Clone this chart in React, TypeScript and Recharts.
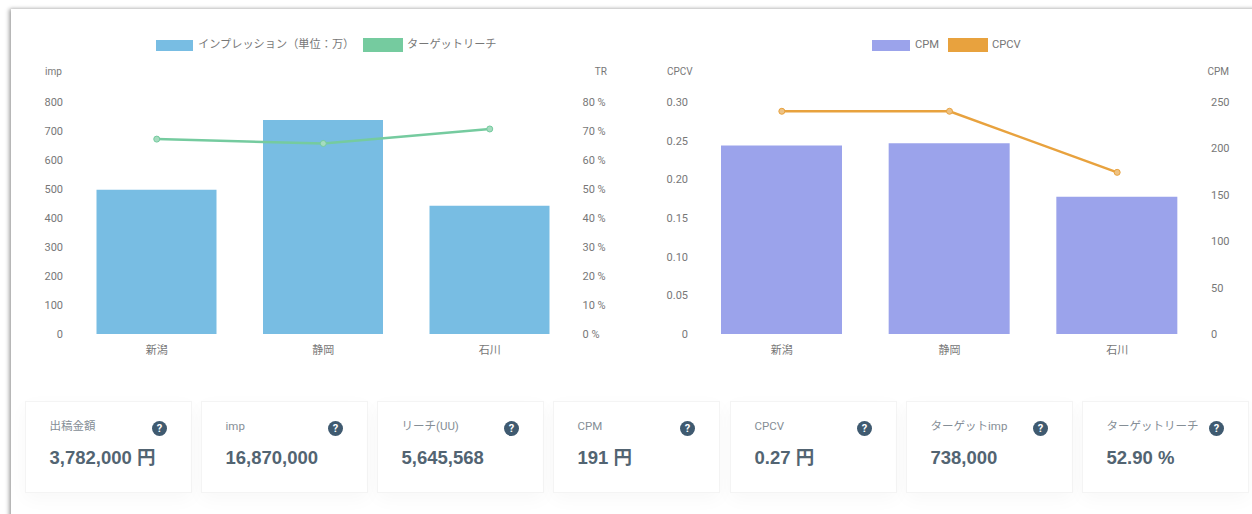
import { Bar, ComposedChart, Legend, Line, XAxis, YAxis } from 'recharts'

const FONT = 'Roboto, "Noto Sans CJK JP", sans-serif'
const TEXT = '#777'

const areas = ['新潟', '静岡', '石川']

const impValues = [497, 738, 442]
const reachValues = [67.2, 65.7, 70.7]
const impTicks = [0, 100, 200, 300, 400, 500, 600, 700, 800]
const reachTicks = [0, 10, 20, 30, 40, 50, 60, 70, 80]

const cpmValues = [203, 205.5, 148]
const cpcvValues = [0.288, 0.288, 0.209]
const cpmTicks = [0, 50, 100, 150, 200, 250]
const cpcvTicks = [0, 0.05, 0.1, 0.15, 0.2, 0.25, 0.3]

const kpiLabels = ['出稿金額', 'imp', 'リーチ(UU)', 'CPM', 'CPCV', 'ターゲットimp', 'ターゲットリーチ']
const kpiValues = ['3,782,000 円', '16,870,000', '5,645,568', '191 円', '0.27 円', '738,000', '52.90 %']

const impData = areas.map((area, i) => ({ area, imp: impValues[i], reach: reachValues[i] }))
const costData = areas.map((area, i) => ({ area, cpm: cpmValues[i], cpcv: cpcvValues[i] }))

type LegendProps = {
  items: { name: string; color: string; left: number; width: number; top: number; height: number; textLeft: number }[]
}

function ChartLegend({ items }: LegendProps) {
  return (
    <div style={{ position: 'absolute', left: 0, top: 0, width: 0, height: 0 }}>
      {items.map((item) => (
        <div key={item.name}>
          <div
            style={{
              position: 'absolute',
              left: item.left,
              top: item.top,
              width: item.width,
              height: item.height,
              background: item.color,
            }}
          />
          <div
            style={{
              position: 'absolute',
              left: item.textLeft,
              top: 37,
              fontSize: 11.2,
              lineHeight: '15px',
              color: TEXT,
              whiteSpace: 'nowrap',
            }}
          >
            {item.name}
          </div>
        </div>
      ))}
    </div>
  )
}

function axisTitle(value: string, x: number, anchor: 'start' | 'end') {
  return ({ viewBox }: any) => (
    <text x={viewBox.x + x} y={75} textAnchor={anchor} fontSize={10} fill={TEXT}>
      {value}
    </text>
  )
}

function KpiCard({ label, value, index }: { label: string; value: string; index: number }) {
  const lefts = [25, 201, 377, 553, 730, 906, 1082]
  return (
    <div
      style={{
        position: 'absolute',
        left: lefts[index],
        top: 401,
        width: 166.5,
        height: 92,
        boxSizing: 'border-box',
        background: '#fff',
        border: '1px solid #f4f4f4',
        boxShadow: '0 6px 18px rgba(0,0,0,0.03)',
      }}
    >
      <div style={{ position: 'absolute', left: 23.5, top: 16, fontSize: 11.5, lineHeight: '16px', color: '#858e96', whiteSpace: 'nowrap' }}>
        {label}
      </div>
      <div
        style={{
          position: 'absolute',
          left: 126,
          top: 19,
          width: 15,
          height: 15,
          borderRadius: '50%',
          background: '#3f5a70',
          color: '#fff',
          fontSize: 11,
          fontWeight: 700,
          lineHeight: '15px',
          textAlign: 'center',
        }}
      >
        ?
      </div>
      <div
        style={{
          position: 'absolute',
          left: 23.5,
          top: 44,
          fontFamily: '"Liberation Sans", "Noto Sans CJK JP", sans-serif',
          fontSize: 18.5,
          fontWeight: 700,
          lineHeight: '24px',
          color: '#526472',
          whiteSpace: 'nowrap',
        }}
      >
        {value}
      </div>
    </div>
  )
}

export default function App() {
  const tick = { fontSize: 11, fill: TEXT }

  return (
    <div style={{ position: 'fixed', left: 0, top: 0, width: 1252, height: 514, background: '#fff', overflow: 'hidden', fontFamily: FONT }}>
      <div
        style={{
          position: 'absolute',
          left: 11,
          top: 9,
          width: 1300,
          height: 600,
          background: '#fff',
          boxShadow: '-2px 0 4px rgba(0,0,0,0.35), 0 -1px 3px rgba(0,0,0,0.06)',
        }}
      />

      <div style={{ position: 'absolute', left: 0, top: 0 }}>
        <ComposedChart
          width={626}
          height={380}
          data={impData}
          margin={{ top: 102, right: 0, bottom: 0, left: 0 }}
        >
          <Legend
            verticalAlign="top"
            height={0}
            wrapperStyle={{ left: 0, top: 0, width: 0, height: 0 }}
            content={() => (
              <ChartLegend
                items={[
                  { name: 'インプレッション（単位：万）', color: '#78bde3', left: 156, width: 37, top: 40, height: 11, textLeft: 198 },
                  { name: 'ターゲットリーチ', color: '#75cb9f', left: 363, width: 40, top: 38, height: 14, textLeft: 407 },
                ]}
              />
            )}
          />
          <XAxis dataKey="area" height={46} tick={tick} tickSize={0} tickMargin={12} axisLine={false} />
          <YAxis
            yAxisId="imp"
            width={73.5}
            domain={[0, 800]}
            ticks={impTicks}
            tick={tick}
            tickSize={0}
            tickMargin={10.5}
            axisLine={false}
            label={{ content: axisTitle('imp', 45, 'start') }}
          />
          <YAxis
            yAxisId="reach"
            orientation="right"
            width={53}
            domain={[0, 80]}
            ticks={reachTicks}
            tickFormatter={(v: number) => `${v} %`}
            tick={{ ...tick, textAnchor: 'start' }}
            tickSize={0}
            tickMargin={9.5}
            axisLine={false}
            label={{ content: axisTitle('TR', 34, 'end') }}
          />
          <Bar yAxisId="imp" dataKey="imp" fill="#78bde3" barSize={120} isAnimationActive={false} />
          <Line
            yAxisId="reach"
            dataKey="reach"
            type="linear"
            stroke="#75cb9f"
            strokeWidth={2.5}
            dot={{ r: 3, fill: '#a5dcbf', stroke: '#75cb9f', strokeWidth: 1 }}
            isAnimationActive={false}
          />
        </ComposedChart>
      </div>

      <div style={{ position: 'absolute', left: 626, top: 0 }}>
        <ComposedChart
          width={626}
          height={380}
          data={costData}
          margin={{ top: 102, right: 0, bottom: 0, left: 0 }}
        >
          <Legend
            verticalAlign="top"
            height={0}
            wrapperStyle={{ left: 0, top: 0, width: 0, height: 0 }}
            content={() => (
              <ChartLegend
                items={[
                  { name: 'CPM', color: '#9ba3eb', left: 246, width: 38, top: 40, height: 11, textLeft: 289 },
                  { name: 'CPCV', color: '#e8a23e', left: 322, width: 40, top: 38, height: 14, textLeft: 366 },
                ]}
              />
            )}
          />
          <XAxis dataKey="area" height={46} tick={tick} tickSize={0} tickMargin={12} axisLine={false} />
          <YAxis
            yAxisId="cpcv"
            width={72}
            domain={[0, 0.3]}
            ticks={cpcvTicks}
            tickFormatter={(v: number) => (v === 0 ? '0' : v.toFixed(2))}
            tick={tick}
            tickSize={0}
            tickMargin={10}
            axisLine={false}
            label={{ content: axisTitle('CPCV', 41, 'start') }}
          />
          <YAxis
            yAxisId="cpm"
            orientation="right"
            width={51}
            domain={[0, 250]}
            ticks={cpmTicks}
            tick={{ ...tick, textAnchor: 'start' }}
            tickSize={0}
            tickMargin={10}
            axisLine={false}
            label={{ content: axisTitle('CPM', 28, 'end') }}
          />
          <Bar yAxisId="cpm" dataKey="cpm" fill="#9ba3eb" barSize={121} isAnimationActive={false} />
          <Line
            yAxisId="cpcv"
            dataKey="cpcv"
            type="linear"
            stroke="#e8a23e"
            strokeWidth={2.5}
            dot={{ r: 3, fill: '#eec283', stroke: '#e8a23e', strokeWidth: 1 }}
            isAnimationActive={false}
          />
        </ComposedChart>
      </div>

      {kpiLabels.map((label, i) => (
        <KpiCard key={label} label={label} value={kpiValues[i]} index={i} />
      ))}
    </div>
  )
}
